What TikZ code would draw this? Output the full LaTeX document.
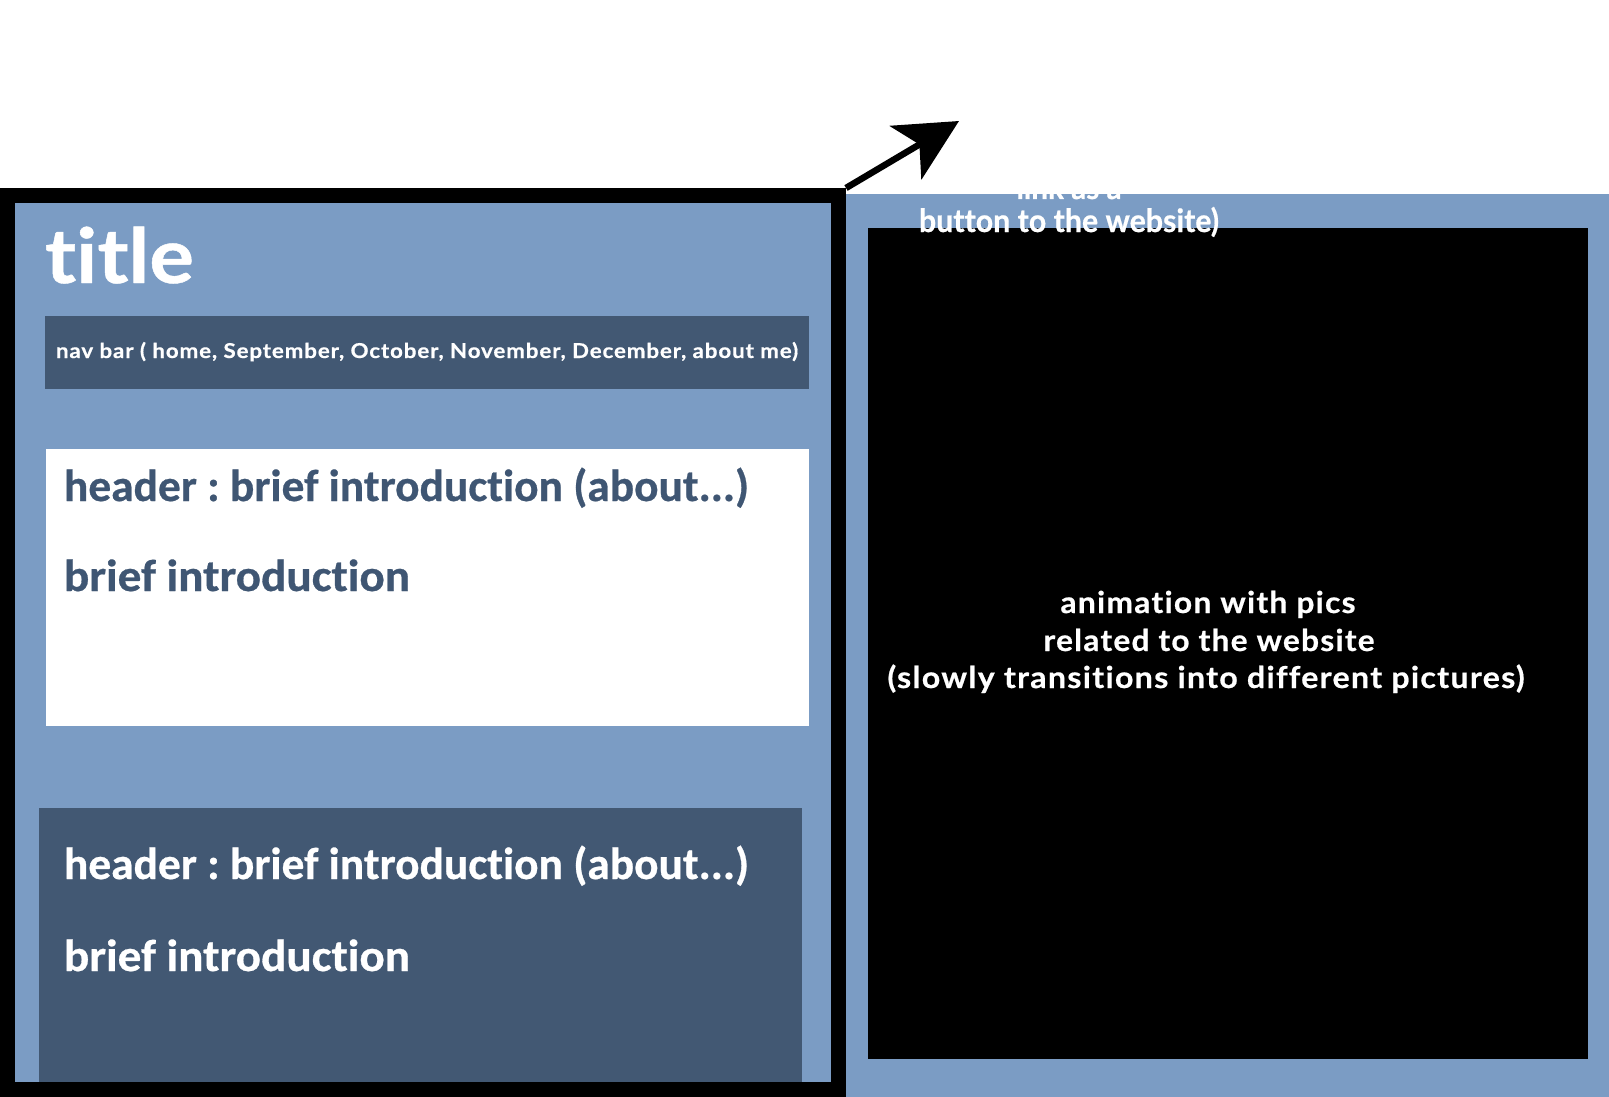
\documentclass[tikz,border=0pt]{standalone}
\usepackage{fontspec}
\usetikzlibrary{arrows.meta}
\setmainfont{Carlito}[Ligatures=NoCommon,BoldFeatures={FakeBold=0.6}]
\newfontfamily\latofont{Lato}[Ligatures=NoCommon,BoldFeatures={FakeBold=0.6}]
\newfontfamily\latotrack{Lato}[Ligatures=NoCommon,LetterSpace=4,BoldFeatures={FakeBold=0.6}]
\definecolor{paneblue}{RGB}{123,156,196}
\definecolor{navblue}{RGB}{66,88,115}
\definecolor{inkblue}{RGB}{63,86,115}
\newcommand{\fitw}[2]{\resizebox{#1pt}{\height}{#2}}
\frenchspacing
\begin{document}
\begin{tikzpicture}[x=1pt,y=-1pt,
  panel/.style={inner sep=0pt,outer sep=0pt,anchor=north west,draw=none},
  lefttxt/.style={inner sep=0pt,outer sep=0pt,anchor=base west},
  midtxt/.style={inner sep=0pt,outer sep=0pt,anchor=base},
]
\fill[white] (0,0) rectangle (1609,1097);
\useasboundingbox (0,0) rectangle (1609,1097);

% right panel
\node[panel,fill=paneblue,minimum width=763,minimum height=903] (right) at (846,194) {};
\node[panel,fill=black,minimum width=720,minimum height=831] (screen) at (868,228) {};

% left framed page
\node[panel,fill=black,minimum width=846,minimum height=909] (frame) at (0,188) {};
\node[panel,fill=paneblue,minimum width=816,minimum height=879] (page) at (15,203) {};
\node[panel,fill=navblue,minimum width=764,minimum height=73] (nav) at (45,316) {};
\node[panel,fill=white,minimum width=763,minimum height=277] (introA) at (46,449) {};
\node[panel,fill=navblue,minimum width=763,minimum height=274] (introB) at (39,808) {};

% texts on the left
\node[lefttxt,text=white] (title) at (45,283)
  {\fitw{149}{\latofont\bfseries\fontsize{76}{80}\selectfont title}};
\node[lefttxt,text=white] (navtext) at (56,358)
  {\fitw{742}{\latotrack\bfseries\fontsize{20.5}{22}\selectfont nav bar ( home, September, October, November, December, about me)}};

\node[lefttxt,text=inkblue] (headA) at (64,501)
  {\fitw{685}{\bfseries\fontsize{45}{50}\selectfont header : brief introduction (about...)}};
\node[lefttxt,text=inkblue] (briefA) at (64,591)
  {\fitw{346}{\bfseries\fontsize{45}{50}\selectfont brief introduction}};
\node[lefttxt,text=white] (headB) at (64,879)
  {\fitw{685}{\bfseries\fontsize{45}{50}\selectfont header : brief introduction (about...)}};
\node[lefttxt,text=white] (briefB) at (64,971)
  {\fitw{346}{\bfseries\fontsize{45}{50}\selectfont brief introduction}};

% texts on the right
\node[midtxt,text=white] (animA) at (1208,613)
  {\fitw{295}{\latotrack\bfseries\fontsize{30}{32}\selectfont animation with pics}};
\node[midtxt,text=white] (animB) at (1209,651)
  {\fitw{331}{\latotrack\bfseries\fontsize{30}{32}\selectfont related to the website}};
\node[midtxt,text=white] (animC) at (1206,688)
  {\fitw{637}{\latotrack\bfseries\fontsize{30}{32}\selectfont (slowly transitions into different pictures)}};

\node[midtxt,text=white] (linkA) at (1069,199)
  {\fitw{105}{\latofont\bfseries\fontsize{32}{34}\selectfont link as a}};
\node[midtxt,text=white] (linkB) at (1069,232)
  {\fitw{300}{\latofont\bfseries\fontsize{32}{34}\selectfont button to the website)}};

% arrow
\coordinate (tip) at (959,121);
\draw[line width=6.5pt,-{Stealth[length=62pt,width=62pt,inset=16pt]}] (frame.north east) -- (tip);
\end{tikzpicture}
\end{document}
